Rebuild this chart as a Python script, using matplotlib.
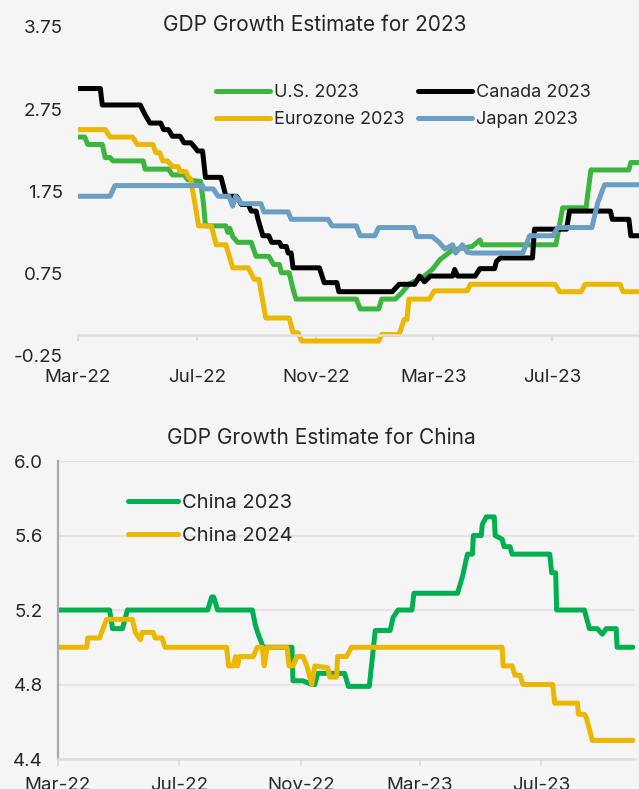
import pandas as pd
import matplotlib.pyplot as plt
import matplotlib.dates as mdates
from matplotlib.ticker import FormatStrFormatter

plt.rcParams['font.family'] = ['Inter', 'DejaVu Sans']

# 2023 consensus GDP growth estimates (%)
us_dates = ['2022-03-01', '2022-03-08', '2022-03-11', '2022-03-26', '2022-03-29', '2022-04-03',
            '2022-04-06', '2022-05-07', '2022-05-09', '2022-06-02', '2022-06-06', '2022-06-18',
            '2022-06-22', '2022-07-05', '2022-07-08', '2022-07-10', '2022-07-31', '2022-08-02',
            '2022-08-04', '2022-08-07', '2022-08-12', '2022-08-26', '2022-08-31', '2022-09-13',
            '2022-09-18', '2022-09-24', '2022-09-26', '2022-10-04', '2022-10-08', '2022-10-11',
            '2022-12-12', '2022-12-16', '2023-01-04', '2023-01-07', '2023-01-21', '2023-01-28',
            '2023-02-04', '2023-02-20', '2023-02-28', '2023-03-08', '2023-03-21', '2023-04-10',
            '2023-04-18', '2023-04-20', '2023-07-05', '2023-07-12', '2023-08-05', '2023-08-10',
            '2023-09-18', '2023-09-20', '2023-10-02']
us_vals = [2.41, 2.41, 2.32, 2.32, 2.16, 2.16, 2.12, 2.12, 2.02, 2.02, 1.95, 1.95, 1.89, 1.87,
           1.60, 1.33, 1.33, 1.25, 1.30, 1.20, 1.13, 1.13, 0.96, 0.96, 0.86, 0.86, 0.76, 0.76,
           0.56, 0.44, 0.44, 0.32, 0.32, 0.44, 0.44, 0.52, 0.62, 0.72, 0.80, 0.92, 1.04, 1.08,
           1.16, 1.10, 1.10, 1.55, 1.55, 2.01, 2.01, 2.10, 2.10]

canada_dates = ['2022-03-01', '2022-03-24', '2022-03-26', '2022-05-04', '2022-05-09', '2022-05-14',
                '2022-05-25', '2022-05-28', '2022-06-02', '2022-06-06', '2022-06-14', '2022-06-18',
                '2022-06-25', '2022-06-28', '2022-07-02', '2022-07-07', '2022-07-10', '2022-07-26',
                '2022-07-31', '2022-08-11', '2022-08-16', '2022-08-23', '2022-08-26', '2022-08-31',
                '2022-09-02', '2022-09-07', '2022-09-13', '2022-09-16', '2022-09-24', '2022-09-26',
                '2022-10-01', '2022-10-03', '2022-10-06', '2022-10-08', '2022-11-04', '2022-11-09',
                '2022-11-22', '2022-11-24', '2023-01-18', '2023-01-25', '2023-02-10', '2023-02-15',
                '2023-02-20', '2023-02-26', '2023-03-21', '2023-03-23', '2023-03-26', '2023-04-13',
                '2023-04-18', '2023-05-03', '2023-05-05', '2023-05-09', '2023-06-11', '2023-06-13',
                '2023-07-16', '2023-07-19', '2023-08-30', '2023-09-01', '2023-09-18', '2023-09-20',
                '2023-10-02']
canada_vals = [3.0, 3.0, 2.8, 2.8, 2.68, 2.58, 2.58, 2.5, 2.5, 2.42, 2.42, 2.34, 2.34, 2.30, 2.24,
               2.24, 1.92, 1.92, 1.69, 1.69, 1.59, 1.59, 1.51, 1.51, 1.41, 1.21, 1.21, 1.13, 1.13,
               1.08, 1.08, 1.0, 1.0, 0.82, 0.82, 0.64, 0.64, 0.53, 0.53, 0.62, 0.62, 0.72, 0.65,
               0.72, 0.72, 0.80, 0.72, 0.72, 0.81, 0.81, 0.90, 0.94, 0.94, 1.29, 1.29, 1.51, 1.51,
               1.41, 1.41, 1.21, 1.21]

euro_dates = ['2022-03-01', '2022-03-29', '2022-04-03', '2022-04-26', '2022-05-01', '2022-05-17',
              '2022-05-20', '2022-05-24', '2022-05-27', '2022-06-01', '2022-06-06', '2022-06-12',
              '2022-06-14', '2022-06-20', '2022-06-22', '2022-06-25', '2022-06-27', '2022-07-03',
              '2022-07-16', '2022-07-21', '2022-07-31', '2022-08-07', '2022-08-23', '2022-08-29',
              '2022-09-03', '2022-09-05', '2022-09-10', '2022-10-04', '2022-10-08', '2022-10-13',
              '2022-10-17', '2023-01-04', '2023-01-07', '2023-01-25', '2023-01-30', '2023-02-02',
              '2023-02-04', '2023-02-25', '2023-03-02', '2023-04-05', '2023-04-08', '2023-07-04',
              '2023-07-09', '2023-07-31', '2023-08-04', '2023-09-09', '2023-09-12', '2023-10-02']
euro_vals = [2.50, 2.50, 2.41, 2.41, 2.32, 2.32, 2.22, 2.22, 2.12, 2.12, 2.05, 2.05, 1.99, 1.99,
             1.93, 1.90, 1.75, 1.33, 1.33, 1.10, 1.10, 0.82, 0.82, 0.68, 0.68, 0.54, 0.21, 0.21,
             0.03, 0.03, -0.07, -0.07, 0.01, 0.01, 0.19, 0.19, 0.44, 0.44, 0.54, 0.54, 0.62, 0.62,
             0.53, 0.53, 0.62, 0.62, 0.53, 0.53]

japan_dates = ['2022-03-01', '2022-04-03', '2022-04-08', '2022-07-07', '2022-07-08', '2022-07-18',
               '2022-07-23', '2022-08-03', '2022-08-07', '2022-08-10', '2022-08-16', '2022-09-05',
               '2022-09-08', '2022-10-03', '2022-10-06', '2022-11-13', '2022-11-17', '2022-12-12',
               '2022-12-16', '2022-12-31', '2023-01-04', '2023-02-09', '2023-02-12', '2023-02-28',
               '2023-03-07', '2023-03-13', '2023-03-21', '2023-03-24', '2023-03-31', '2023-04-05',
               '2023-04-10', '2023-06-01', '2023-06-08', '2023-07-02', '2023-07-07', '2023-08-11',
               '2023-08-17', '2023-08-24', '2023-10-02']
japan_vals = [1.69, 1.69, 1.82, 1.82, 1.78, 1.78, 1.69, 1.69, 1.57, 1.69, 1.60, 1.60, 1.50, 1.50,
              1.41, 1.41, 1.33, 1.33, 1.21, 1.21, 1.31, 1.31, 1.20, 1.20, 1.13, 1.05, 1.10, 1.00,
              1.10, 1.01, 1.00, 1.00, 1.21, 1.21, 1.31, 1.31, 1.61, 1.83, 1.83]

# China estimates for 2023 and 2024 (%)
cn23_dates = ['2022-03-01', '2022-04-22', '2022-04-25', '2022-05-05', '2022-05-10', '2022-07-30',
              '2022-08-03', '2022-08-05', '2022-08-09', '2022-09-13', '2022-09-16', '2022-09-19',
              '2022-09-24', '2022-10-23', '2022-10-24', '2022-11-03', '2022-11-12', '2022-11-15',
              '2022-11-18', '2022-12-15', '2022-12-19', '2023-01-09', '2023-01-15', '2023-01-30',
              '2023-02-02', '2023-02-07', '2023-02-21', '2023-02-23', '2023-04-08', '2023-04-13',
              '2023-04-18', '2023-04-23', '2023-04-24', '2023-05-02', '2023-05-03', '2023-05-07',
              '2023-05-15', '2023-05-16', '2023-05-23', '2023-05-25', '2023-05-31', '2023-06-02',
              '2023-07-10', '2023-07-12', '2023-07-16', '2023-07-17', '2023-08-14', '2023-08-19',
              '2023-08-27', '2023-09-01', '2023-09-05', '2023-09-15', '2023-09-16', '2023-10-02']
cn23_vals = [5.2, 5.2, 5.1, 5.1, 5.2, 5.2, 5.27, 5.27, 5.2, 5.2, 5.12, 5.07, 5.0, 5.0, 4.82, 4.82,
             4.80, 4.80, 4.86, 4.86, 4.79, 4.79, 5.09, 5.09, 5.16, 5.2, 5.2, 5.29, 5.29, 5.38, 5.5,
             5.5, 5.6, 5.6, 5.66, 5.70, 5.70, 5.6, 5.58, 5.54, 5.54, 5.5, 5.5, 5.4, 5.4, 5.2, 5.2,
             5.1, 5.1, 5.07, 5.1, 5.1, 5.0, 5.0]

cn24_dates = ['2022-03-01', '2022-03-30', '2022-03-31', '2022-04-12', '2022-04-14', '2022-04-19',
              '2022-05-15', '2022-05-18', '2022-05-23', '2022-05-25', '2022-06-05', '2022-06-07',
              '2022-06-14', '2022-06-17', '2022-08-18', '2022-08-20', '2022-08-25', '2022-08-27',
              '2022-08-29', '2022-08-31', '2022-09-14', '2022-09-18', '2022-09-23', '2022-09-25',
              '2022-09-28', '2022-10-18', '2022-10-20', '2022-10-24', '2022-10-28', '2022-11-03',
              '2022-11-07', '2022-11-12', '2022-11-15', '2022-11-28', '2022-11-30', '2022-12-07',
              '2022-12-08', '2022-12-17', '2022-12-22', '2023-05-23', '2023-05-24', '2023-06-02',
              '2023-06-05', '2023-06-10', '2023-06-13', '2023-07-13', '2023-07-15', '2023-08-07',
              '2023-08-08', '2023-08-14', '2023-08-16', '2023-08-22', '2023-10-02']
cn24_vals = [5.0, 5.0, 5.05, 5.05, 5.08, 5.15, 5.15, 5.08, 5.04, 5.08, 5.08, 5.05, 5.05, 5.0, 5.0,
             4.9, 4.9, 4.95, 4.9, 4.95, 4.95, 5.0, 5.0, 4.9, 5.0, 5.0, 4.9, 4.9, 4.95, 4.95, 4.9,
             4.8, 4.9, 4.89, 4.84, 4.84, 4.95, 4.95, 5.0, 5.0, 4.9, 4.9, 4.85, 4.85, 4.8, 4.8, 4.7,
             4.7, 4.64, 4.64, 4.62, 4.5, 4.5]

bg = '#f5f5f5'
text_color = '#262626'
axis_gray = '#dedede'
lw = 3.6

fig = plt.figure(figsize=(6.39, 7.89), dpi=100, facecolor=bg)

# ---- top panel: 2023 estimates for developed economies ----
ax1 = fig.add_axes([0.122, 0.549, 0.885, 0.417], facecolor=bg)
series = [('U.S. 2023', us_dates, us_vals, '#3cb53f'),
          ('Canada 2023', canada_dates, canada_vals, '#000000'),
          ('Eurozone 2023', euro_dates, euro_vals, '#ebb700'),
          ('Japan 2023', japan_dates, japan_vals, '#6a9fc3')]
lines = {}
for name, d, v, c in series:
    lines[name], = ax1.plot(pd.to_datetime(d), v, color=c, lw=lw, label=name,
                            solid_joinstyle='round', solid_capstyle='round')

ax1.set_xlim(pd.Timestamp('2022-03-01'), pd.Timestamp('2023-10-03'))
ax1.set_ylim(-0.25, 3.75)
ax1.set_yticks([-0.25, 0.75, 1.75, 2.75, 3.75])
ax1.yaxis.set_major_formatter(FormatStrFormatter('%.2f'))
for s in ['top', 'right', 'left']:
    ax1.spines[s].set_visible(False)
ax1.spines['bottom'].set_position(('data', 0))
ax1.spines['bottom'].set_color(axis_gray)
ax1.spines['bottom'].set_linewidth(1.8)
ax1.tick_params(axis='y', length=0, pad=11, labelsize=13.5, labelcolor=text_color)
ax1.tick_params(axis='x', length=4, width=1.5, color=axis_gray, pad=20,
                labelsize=13.5, labelcolor=text_color)

order = ['U.S. 2023', 'Eurozone 2023', 'Canada 2023', 'Japan 2023']
fig.legend([lines[k] for k in order], order, ncol=2, loc='upper left',
           bbox_to_anchor=(0.338, 0.8935), frameon=False, fontsize=13,
           handlelength=3.0, handletextpad=0.2, columnspacing=0.75,
           labelspacing=0.55, borderpad=0, borderaxespad=0, labelcolor=text_color)
fig.text(0.492, 0.968, 'GDP Growth Estimate for 2023', ha='center', va='center',
         fontsize=15, color=text_color)

# ---- bottom panel: China ----
ax2 = fig.add_axes([0.0908, 0.038, 0.9029, 0.3777], facecolor=bg)
ax2.plot(pd.to_datetime(cn23_dates), cn23_vals, color='#00b050', lw=lw, label='China 2023',
         solid_joinstyle='round', solid_capstyle='round')
ax2.plot(pd.to_datetime(cn24_dates), cn24_vals, color='#ebb700', lw=lw, label='China 2024',
         solid_joinstyle='round', solid_capstyle='round')
ax2.set_xlim(pd.Timestamp('2022-03-01'), pd.Timestamp('2023-10-04'))
ax2.set_ylim(4.4, 6.0)
ax2.set_yticks([4.4, 4.8, 5.2, 5.6, 6.0])
ax2.yaxis.set_major_formatter(FormatStrFormatter('%.1f'))
ax2.grid(axis='y', color='#e4e4e4', lw=1.6)
ax2.set_axisbelow(True)
for s in ['top', 'right']:
    ax2.spines[s].set_visible(False)
ax2.spines['left'].set_color('#a8a8a8')
ax2.spines['left'].set_linewidth(1.6)
ax2.spines['bottom'].set_color(axis_gray)
ax2.spines['bottom'].set_linewidth(1.8)
ax2.tick_params(axis='y', length=0, pad=11, labelsize=13.5, labelcolor=text_color)
ax2.tick_params(axis='x', length=5, width=1.5, color=axis_gray, pad=8,
                labelsize=13.5, labelcolor=text_color)
ax2.legend(loc='upper left', bbox_to_anchor=(0.2, 0.374), bbox_transform=fig.transFigure,
           frameon=False, fontsize=14.5, handlelength=2.5, handletextpad=0.2,
           labelspacing=0.75, borderpad=0, borderaxespad=0, labelcolor=text_color)
fig.text(0.503, 0.445, 'GDP Growth Estimate for China', ha='center', va='center',
         fontsize=15, color=text_color)

for ax in (ax1, ax2):
    ax.xaxis.set_major_locator(mdates.MonthLocator(bymonth=[3, 7, 11]))
    ax.xaxis.set_major_formatter(mdates.DateFormatter('%b-%y'))

fig.savefig('out.png', dpi=100, facecolor=bg)
